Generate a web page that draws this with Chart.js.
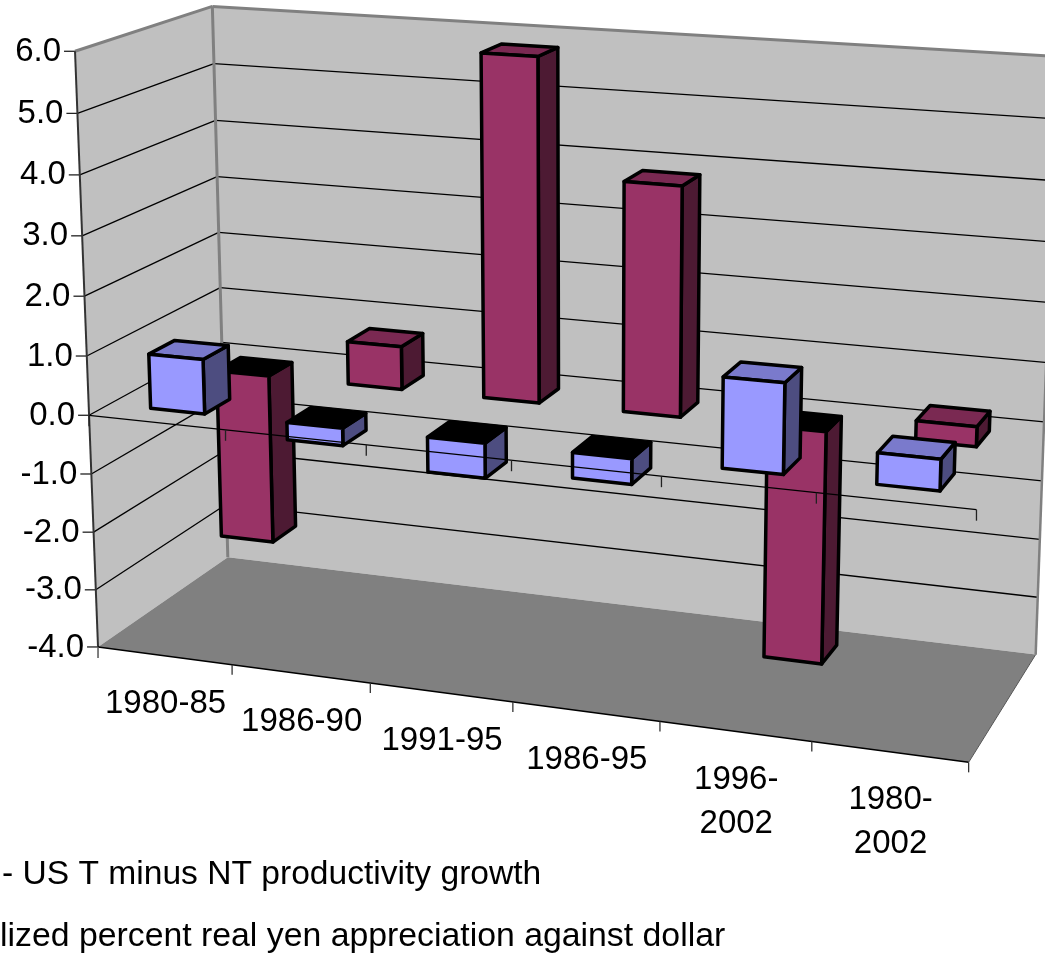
<!DOCTYPE html>
<html><head><meta charset="utf-8">
<style>html,body{margin:0;padding:0;background:#fff;overflow:hidden}canvas{display:block}</style>
<script src="https://cdn.jsdelivr.net/npm/chart.js@4"></script>
</head><body><canvas id="c" width="1045" height="953"></canvas>
<script>
const categories = ['1980-85','1986-90','1991-95','1986-95',['1996-','2002'],['1980-','2002']];
const seriesBlueLabel = '- US T minus NT productivity growth';
const seriesRedLabel = 'lized percent real yen appreciation against dollar';
const blueValues = [0.92,-0.29,-0.58,-0.42,1.46,0.5];
const redValues = [-2.97,0.74,5.8,3.85,-3.95,0.33];

// Projective camera fitted to landmarks of the 3D box (u across, w into, v up; each 0..1)
const boxCorners = [
 [0,0,0,98,647],[1,0,0,968,763],[0,1,0,228,558],[1,1,0,1036,653],
 [0,0,1,75,51],[0,1,1,212,6],[1,1,1,1057,56],
 [0,0,.4,89,415],[0,0,.9,78,114],[0,0,.3,91,473],[0,1,.9,214,64],
 [1,1,.4,1044,423],[1,1,.3,1042,481],[1,0,.4,977,510]];
function fitCamera(pts){
  const n=11,A=Array.from({length:n},()=>new Array(n+1).fill(0));
  const add=(r,b)=>{for(let i=0;i<n;i++){for(let j=0;j<n;j++)A[i][j]+=r[i]*r[j];A[i][n]+=r[i]*b;}};
  for(const [u,w,v,x,y] of pts){
    add([u,w,v,1,0,0,0,0,-x*u,-x*w,-x*v],x);
    add([0,0,0,0,u,w,v,1,-y*u,-y*w,-y*v],y);
  }
  for(let i=0;i<n;i++){
    let p=i;for(let r=i+1;r<n;r++)if(Math.abs(A[r][i])>Math.abs(A[p][i]))p=r;
    [A[i],A[p]]=[A[p],A[i]];
    for(let r=0;r<n;r++){if(r===i)continue;const f=A[r][i]/A[i][i];for(let c=i;c<=n;c++)A[r][c]-=f*A[i][c];}
  }
  return A.map((row,i)=>row[n]/row[i]);
}
const cam = fitCamera(boxCorners);
function P(u,w,v){
  const d=cam[8]*u+cam[9]*w+cam[10]*v+1;
  return [(cam[0]*u+cam[1]*w+cam[2]*v+cam[3])/d,(cam[4]*u+cam[5]*w+cam[6]*v+cam[7])/d];
}
function poly(ctx,pts,fill,stroke,lw){
  ctx.beginPath();pts.forEach((p,i)=>i?ctx.lineTo(p[0],p[1]):ctx.moveTo(p[0],p[1]));ctx.closePath();
  if(fill){ctx.fillStyle=fill;ctx.fill();}
  if(stroke){ctx.strokeStyle=stroke;ctx.lineWidth=lw;ctx.lineJoin='round';ctx.stroke();}
}
function line(ctx,a,b,c,lw){ctx.beginPath();ctx.moveTo(a[0],a[1]);ctx.lineTo(b[0],b[1]);ctx.strokeStyle=c;ctx.lineWidth=lw;ctx.stroke();}

const rowDepth = 0.5;      // depth of each series row
const barFront = 0.29;     // gap in front of a bar, as a share of its row
const barDepthFrac = 0.38; // bar depth, as a share of its row
const barShift = 0.001;    // slight sideways offset of bars
const plugin3d = {
  id:'plugin3d',
  beforeDatasetsDraw(chart){
    const ctx=chart.ctx,xs=chart.scales.x,ys=chart.scales.y;
    const U=px=>(px-xs.left)/xs.width, V=py=>(ys.bottom-py)/ys.height;
    ctx.save();
    // walls and floor
    poly(ctx,[P(0,0,0),P(0,1,0),P(0,1,1),P(0,0,1)],'#C0C0C0');
    poly(ctx,[P(0,1,0),P(1,1,0),P(1,1,1),P(0,1,1)],'#C0C0C0');
    poly(ctx,[P(0,0,0),P(1,0,0),P(1,1,0),P(0,1,0)],'#808080');
    // gridlines and value labels
    ctx.font='33px "Liberation Sans"';ctx.fillStyle='#000';ctx.textAlign='right';ctx.textBaseline='middle';
    ys.ticks.forEach(t=>{
      const v=V(ys.getPixelForValue(t.value));
      const a=P(0,0,v),b=P(0,1,v),c=P(1,1,v);
      if(t.value>-4&&t.value<6){line(ctx,a,b,'#000',1.3);line(ctx,b,c,'#000',1.3);}
      line(ctx,[a[0]-11,a[1]],a,'#222',1.3);
      ctx.fillStyle='#000';
      ctx.fillText(t.label,a[0]-14,a[1]+0.5);
    });
    // wall edges
    line(ctx,P(0,0,1),P(0,1,1),'#808080',3);
    line(ctx,P(0,1,1),P(0,1,0),'#808080',3);
    line(ctx,P(0,1,1),P(1,1,1),'#808080',3);
    line(ctx,P(1,1,1),P(1,1,0),'#808080',2.5);
    line(ctx,P(0,0,0),P(0,0,1),'#333',2);
    line(ctx,P(0,0,0),P(1,0,0),'#000',1.5);
    line(ctx,P(1,0,0),P(1,1,0),'#555',1);
    line(ctx,P(0,0,0),[P(0,0,0)[0],P(0,0,0)[1]+11],'#555',1.5);
    // floor-edge ticks and category labels
    const n=xs.ticks.length;
    for(let i=1;i<=n;i++){const p=P(i/n,0,0);line(ctx,p,[p[0],p[1]+10],'#333',1.3);}
    ctx.textAlign='center';ctx.textBaseline='middle';
    xs.ticks.forEach((t,i)=>{
      const p=P(U(xs.getPixelForValue(i)),0,0);
      const lines=Array.isArray(t.label)?t.label:[t.label];
      lines.forEach((s,k)=>ctx.fillText(s,p[0]+1,p[1]+48+k*44));
    });
    const v0=V(ys.getPixelForValue(0));
    const drawBars=(idx,rowStart)=>{
      const meta=chart.getDatasetMeta(idx),ds=chart.data.datasets[idx];
      const w0=(rowStart+barFront)*rowDepth,w1=w0+barDepthFrac*rowDepth;
      const [front,top,side]=ds.faceColors;
      meta.data.forEach(el=>{
        const u0=U(el.x-el.width/2)+barShift,u1=U(el.x+el.width/2)+barShift;
        const vt=Math.max(V(el.y),V(el.base)),vb=Math.min(V(el.y),V(el.base));
        const neg=V(el.y)<V(el.base);
        const lw=3.5;
        poly(ctx,[P(u1,w0,vb),P(u1,w1,vb),P(u1,w1,vt),P(u1,w0,vt)],side,'#000',lw);
        poly(ctx,[P(u0,w0,vt),P(u1,w0,vt),P(u1,w1,vt),P(u0,w1,vt)],neg?'#000':top,'#000',lw);
        poly(ctx,[P(u0,w0,vb),P(u1,w0,vb),P(u1,w0,vt),P(u0,w0,vt)],front,'#000',lw);
      });
    };
    drawBars(1,1);
    drawBars(0,0);
    // zero axis runs over the bars
    line(ctx,P(0,0,v0),P(1,0,v0),'#000',1.3);
    for(let i=0;i<=n;i++){const p=P(i/n,0,v0);line(ctx,p,[p[0],p[1]+11],'#222',1.3);}
    // legend text, cropped at the left edge in the source
    ctx.textAlign='left';ctx.textBaseline='alphabetic';ctx.fillStyle='#000';
    ctx.font='33.6px "Liberation Sans"';
    ctx.fillText(chart.data.datasets[0].label,2,884);
    ctx.font='33.8px "Liberation Sans"';
    ctx.fillText(chart.data.datasets[1].label,0,946);
    ctx.restore();
    return false;
  }
};
new Chart(document.getElementById('c'),{
  type:'bar',
  data:{labels:categories,datasets:[
    {label:seriesBlueLabel,data:blueValues,backgroundColor:'#9999FF',borderColor:'#000',faceColors:['#9999FF','#7A7ACC','#4D4D80'],grouped:false,barPercentage:0.4,categoryPercentage:1},
    {label:seriesRedLabel,data:redValues,backgroundColor:'#993366',borderColor:'#000',faceColors:['#993366','#7A2952','#4D1A33'],grouped:false,barPercentage:0.4,categoryPercentage:1}
  ]},
  plugins:[plugin3d],
  options:{
    responsive:false,animation:false,
    layout:{padding:0},
    plugins:{legend:{display:false},tooltip:{enabled:false},title:{display:false}},
    scales:{
      x:{ticks:{display:false,autoSkip:false},grid:{display:false},border:{display:false}},
      y:{min:-4,max:6,ticks:{display:false,stepSize:1,callback:v=>v.toFixed(1)},grid:{display:false},border:{display:false}}
    }
  }
});
</script></body></html>
